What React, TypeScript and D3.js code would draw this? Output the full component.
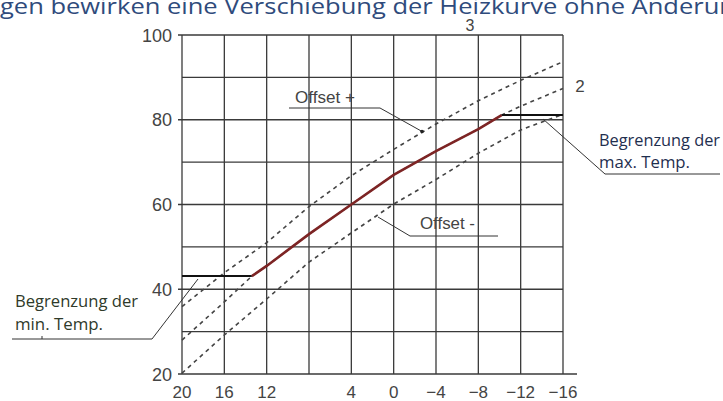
import * as d3 from 'd3';

// outdoor temperature (x) and flow temperature (y)
const xTicks = [20, 16, 12, 8, 4, 0, -4, -8, -12, -16];
const xTickLabels = ['20', '16', '12', '', '4', '0', '−4', '−8', '−12', '−16'];
const yGrid = [20, 30, 40, 50, 60, 70, 80, 90, 100];
const yTickLabels = [20, 40, 60, 80, 100];

// curve 2 (base heating curve)
const curveX = [20, 16, 13.4, 12, 8, 4, 0, -4, -8, -10.2, -12, -16];
const curveY = [28, 37, 43.1, 45.5, 53, 60, 67, 72.6, 77.8, 81.1, 83.2, 87.4];

// offset + curve
const plusX = [20, 16, 12, 8, 4, 0, -4, -8, -12, -16];
const plusY = [35.9, 43.9, 51, 59.5, 66.8, 73, 79, 84.5, 89.3, 93.7];

// offset - curve
const minusX = [20, 16, 12, 8, 4, 0, -4, -8, -12, -16];
const minusY = [20.2, 29.2, 37.7, 46.4, 53.3, 60.1, 65.9, 72.1, 77.6, 81.3];

const minTemp = 43.1;
const maxTemp = 81.1;

const W = 723;
const H = 401;

export default function App() {
  const x = d3.scaleLinear().domain([20, -16]).range([182, 563]);
  const y = d3.scaleLinear().domain([20, 100]).range([374, 35]);

  const line = d3
    .line<[number, number]>()
    .x((d) => x(d[0]))
    .y((d) => y(d[1]));

  const base = curveX.map((v, i) => [v, curveY[i]] as [number, number]);
  const plus = plusX.map((v, i) => [v, plusY[i]] as [number, number]);
  const minus = minusX.map((v, i) => [v, minusY[i]] as [number, number]);
  const red = base.filter((d) => d[1] >= minTemp && d[1] <= maxTemp);
  const xMinEnd = red[0][0];
  const xMaxStart = red[red.length - 1][0];

  const grid = '#3a3a3a';
  const axisFont = '"Liberation Sans", Arial, sans-serif';
  const noteFont = '"Open Sans", "Noto Sans", sans-serif';

  return (
    <div style={{ position: 'absolute', left: 0, top: 0 }}>
      <svg width={W} height={H} style={{ display: 'block', background: '#fff' }}>
        <text
          x={0}
          y={14}
          fill="#2f4b7c"
          fontFamily={noteFont}
          fontSize={22}
          textLength={735}
          lengthAdjust="spacingAndGlyphs"
        >
          gen bewirken eine Verschiebung der Heizkurve ohne Änderun
        </text>

        {/* grid */}
        {yGrid.map((v) => (
          <line
            key={'h' + v}
            x1={yTickLabels.includes(v) ? x(20) - 4 : x(20)}
            x2={v === 20 ? x(-16) + 14 : x(-16)}
            y1={y(v)}
            y2={y(v)}
            stroke={grid}
            strokeWidth={1.3}
          />
        ))}
        {xTicks.map((v) => (
          <line key={'v' + v} x1={x(v)} x2={x(v)} y1={y(100)} y2={y(20)} stroke={grid} strokeWidth={1.3} />
        ))}

        {/* tick labels */}
        {yTickLabels.map((v) => (
          <text
            key={'yl' + v}
            x={x(20) - 10}
            y={y(v) + 6.5}
            textAnchor="end"
            fontFamily={axisFont}
            fontSize={18}
            fill="#444"
          >
            {v}
          </text>
        ))}
        {xTicks.map((v, i) => (
          <text
            key={'xl' + v}
            x={x(v)}
            y={398}
            textAnchor="middle"
            fontFamily={axisFont}
            fontSize={17}
            fill="#444"
          >
            {xTickLabels[i]}
          </text>
        ))}

        {/* curve labels */}
        <text x={470} y={31} textAnchor="middle" fontFamily={axisFont} fontSize={16} fill="#444">
          3
        </text>
        <text x={580} y={92} textAnchor="middle" fontFamily={axisFont} fontSize={17} fill="#444">
          2
        </text>

        {/* dashed curves */}
        {[plus, base, minus].map((d, i) => (
          <path
            key={'c' + i}
            d={line(d) ?? ''}
            fill="none"
            stroke="#444"
            strokeWidth={1.6}
            strokeDasharray="4 4"
          />
        ))}

        {/* limits */}
        <line x1={x(20)} x2={x(xMinEnd)} y1={y(minTemp)} y2={y(minTemp)} stroke="#111" strokeWidth={2} />
        <line x1={x(xMaxStart)} x2={x(-16)} y1={y(maxTemp)} y2={y(maxTemp)} stroke="#111" strokeWidth={2} />

        {/* heating curve */}
        <path d={line(red) ?? ''} fill="none" stroke="#7d2424" strokeWidth={2.6} />

        {/* Offset + */}
        <text x={295} y={103} fontFamily={axisFont} fontSize={16} fill="#444" textLength={60} lengthAdjust="spacingAndGlyphs">
          Offset  +
        </text>
        <polyline points="289,108 380,108 423,132" fill="none" stroke="#333" strokeWidth={1} />
        <circle cx={422} cy={131.5} r={1.8} fill="#222" />

        {/* Offset - */}
        <text x={420} y={229} fontFamily={axisFont} fontSize={16} fill="#444" textLength={55} lengthAdjust="spacingAndGlyphs">
          Offset  -
        </text>
        <polyline points="498,236 410,236 378,217" fill="none" stroke="#333" strokeWidth={1} />

        {/* max temp */}
        <polyline points="543,119 605,174 720,174" fill="none" stroke="#333" strokeWidth={1} />
        <text x={599} y={146} fontFamily={noteFont} fontSize={16} fill="#1f2f4f" textLength={121} lengthAdjust="spacingAndGlyphs">
          Begrenzung der
        </text>
        <text x={599} y={168} fontFamily={noteFont} fontSize={16} fill="#1f2f4f" textLength={91} lengthAdjust="spacingAndGlyphs">
          max. Temp.
        </text>

        {/* min temp */}
        <polyline points="12,339 152,339 198,279" fill="none" stroke="#333" strokeWidth={1} />
        <line x1={42} x2={42} y1={336} y2={339} stroke="#333" strokeWidth={1} />
        <text x={15} y={307} fontFamily={noteFont} fontSize={16} fill="#2f3a2a" textLength={123} lengthAdjust="spacingAndGlyphs">
          Begrenzung der
        </text>
        <text x={15} y={330} fontFamily={noteFont} fontSize={16} fill="#2f3a2a" textLength={88} lengthAdjust="spacingAndGlyphs">
          min. Temp.
        </text>
      </svg>
    </div>
  );
}
